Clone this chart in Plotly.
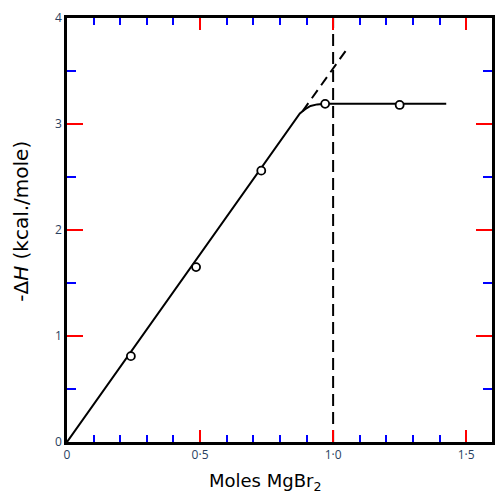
import plotly.graph_objects as go

# data
moles_pts = [0.24, 0.485, 0.73, 0.97, 1.25]
dh_pts = [0.81, 1.65, 2.56, 3.19, 3.18]

curve_x = [0.0, 0.875, 0.895, 0.915, 0.94, 0.97, 1.425]
curve_y = [0.0, 3.10, 3.14, 3.17, 3.185, 3.19, 3.19]

extrap_x = [0.885, 1.05]
extrap_y = [3.12, 3.70]

equiv_x = [1.0, 1.0]
equiv_y = [0.0, 4.0]

x_tickvals = [0, 0.5, 1.0, 1.5]
x_ticktext = ["0", "0·5", "1·0", "1·5"]
y_tickvals = [0, 1, 2, 3, 4]
y_ticktext = ["0", "1", "2", "3", "4"]

FONT = "DejaVu Sans"
XR = [0, 1.597]
YR = [0, 4]

fig = go.Figure()
fig.add_trace(go.Scatter(x=moles_pts, y=dh_pts, mode="markers",
                         marker=dict(symbol="circle", size=8, color="white",
                                     line=dict(color="black", width=1.8))))
fig.add_trace(go.Scatter(x=equiv_x, y=equiv_y, mode="lines",
                         line=dict(color="black", width=2, dash="12px,6px")))
fig.add_trace(go.Scatter(x=extrap_x, y=extrap_y, mode="lines",
                         line=dict(color="black", width=2, dash="10px,6px")))
fig.add_trace(go.Scatter(x=curve_x, y=curve_y, mode="lines",
                         line=dict(color="black", width=2)))
fig.data = (fig.data[1], fig.data[2], fig.data[3], fig.data[0])

fig.update_layout(width=497, height=495, margin=dict(l=67, r=2, t=18, b=53),
    plot_bgcolor="white", showlegend=False,
    xaxis=dict(range=XR, showline=True, linecolor="black", linewidth=2.5, mirror="allticks",
               ticks="inside", ticklen=12, tickwidth=1.5, tickcolor="red",
               tickvals=x_tickvals, ticktext=x_ticktext,
               minor=dict(ticks="inside", dtick=0.1, tick0=0, ticklen=7, tickcolor="blue")),
    yaxis=dict(range=YR, showline=True, linecolor="black", linewidth=2.5, mirror="allticks",
               ticks="inside", ticklen=16, tickwidth=1.5, tickcolor="red",
               tickvals=y_tickvals, ticktext=y_ticktext,
               minor=dict(ticks="inside", dtick=0.5, ticklen=9, tickcolor="blue")),
)
fig.add_annotation(text="Moles MgBr<sub>2</sub>", xref="paper", yref="paper",
                   x=0.465, y=-0.095, yanchor="middle", xanchor="center",
                   showarrow=False, font=dict(size=18, family=FONT, color="black"))
fig.add_annotation(text="-Δ<i>H</i> (kcal./mole)", xref="paper", yref="paper",
                   x=-0.11, y=0.52, textangle=-90, xanchor="center", yanchor="middle",
                   showarrow=False, font=dict(size=20, family=FONT, color="black"))

fig.write_html("out.html")
